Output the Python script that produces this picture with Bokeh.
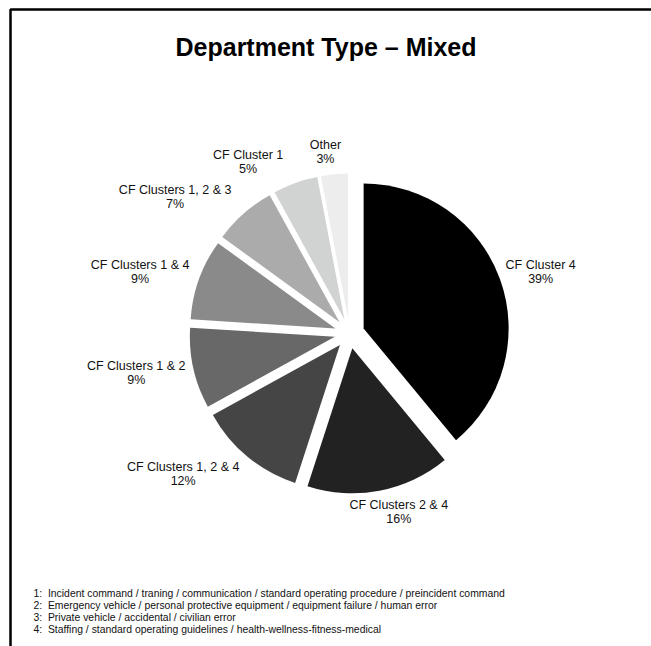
import math

from bokeh.core.properties import value
from bokeh.embed import file_html
from bokeh.models import ColumnDataSource, Range1d
from bokeh.plotting import figure
from bokeh.resources import INLINE

# ---- data -------------------------------------------------------------
categories = [
    "CF Cluster 4",
    "CF Clusters 2 & 4",
    "CF Clusters 1, 2 & 4",
    "CF Clusters 1 & 2",
    "CF Clusters 1 & 4",
    "CF Clusters 1, 2 & 3",
    "CF Cluster 1",
    "Other",
]
shares = [39, 16, 12, 9, 9, 7, 5, 3]
colors = ["#000000", "#222222", "#454545", "#676867",
          "#8a8a8a", "#ababab", "#d1d2d2", "#ededed"]

title_text = "Department Type \u2013 Mixed"
footnotes = [
    "1:\u00a0 Incident command / traning / communication / standard operating procedure / preincident command",
    "2:\u00a0 Emergency vehicle / personal protective equipment / equipment failure / human error",
    "3:\u00a0 Private vehicle / accidental / civilian error",
    "4:\u00a0 Staffing / standard operating guidelines / health-wellness-fitness-medical",
]

# ---- layout (pixel units, y measured downward from the top) ------------
W, H = 651, 646
CX, CY = 349, 333          # pie centre
RADIUS = 145
EXPLODE = 15               # every slice pulled out along its bisector
LABEL_R = 168
LABEL_FONT = 12.5
LINE_H = 14
# sideways shift of a few labels so neighbouring labels keep clear of each other
LABEL_SHIFT = [-2, -9, -3, 0, -2, -7, -10, -4]

FONT = "Liberation Sans, Arial, Helvetica, sans-serif"

# approximate advance widths (1/1000 em) used to centre the two-line labels
_ADV = {" ": 278, "C": 722, "F": 611, "O": 778, "l": 222, "u": 556, "s": 500,
        "t": 278, "e": 556, "r": 333, "h": 556, ",": 278, "&": 667, "%": 889}


def text_width(s, size):
    return sum(_ADV.get(ch, 556) for ch in s) * size / 1000.0


def fy(y_px):
    """convert a top-down pixel y into the plot's upward y axis"""
    return H - y_px


total = float(sum(shares))
starts, ends, xs, ys = [], [], [], []
lab_x, lab_y1, lab_y2, pct_text = [], [], [], []
cum = 0.0
for name, v, shift in zip(categories, shares, LABEL_SHIFT):
    a_hi = math.pi / 2 - 2 * math.pi * cum / total           # clockwise from 12 o'clock
    a_lo = math.pi / 2 - 2 * math.pi * (cum + v) / total
    mid = 0.5 * (a_hi + a_lo)
    cum += v
    starts.append(a_lo)
    ends.append(a_hi)
    xs.append(CX + EXPLODE * math.cos(mid))
    ys.append(fy(CY) + EXPLODE * math.sin(mid))

    pct = f"{round(100 * v / total)}%"
    pct_text.append(pct)
    w = max(text_width(name, LABEL_FONT), text_width(pct, LABEL_FONT))
    px = CX + LABEL_R * math.cos(mid)
    py = CY - LABEL_R * math.sin(mid)
    kx = max(-1.0, min(1.0, 2.9 * math.cos(mid)))
    cx_lab = px + kx * w / 2 + shift
    cy_lab = py - math.sin(mid) * LINE_H
    lab_x.append(cx_lab)
    lab_y1.append(fy(cy_lab - LINE_H / 2))
    lab_y2.append(fy(cy_lab + LINE_H / 2))

src = ColumnDataSource(dict(x=xs, y=ys, start=starts, end=ends, color=colors,
                            name=categories, pct=pct_text,
                            lx=lab_x, ly1=lab_y1, ly2=lab_y2))

p = figure(width=W, height=H, x_range=Range1d(0, W), y_range=Range1d(0, H),
           output_backend="svg", toolbar_location=None, min_border=0)
p.axis.visible = False
p.grid.visible = False
p.outline_line_color = None
p.background_fill_color = "white"
p.border_fill_color = "white"

# frame around the page (runs off the right and bottom edges)
p.quad(left=10, right=W + 200, top=fy(9), bottom=-200,
       fill_color=None, line_color="black", line_width=2.5)

p.wedge(x="x", y="y", radius=RADIUS, start_angle="start", end_angle="end",
        direction="anticlock", fill_color="color", line_color=None, source=src)

p.text(x="lx", y="ly1", text="name", source=src, text_align="center",
       text_baseline="middle", text_font=value(FONT),
       text_font_size=f"{LABEL_FONT}px", text_color="#111111")
p.text(x="lx", y="ly2", text="pct", source=src, text_align="center",
       text_baseline="middle", text_font=value(FONT),
       text_font_size=f"{LABEL_FONT}px", text_color="#111111")

p.text(x=[W / 2], y=[fy(46)], text=[title_text], text_align="center",
       text_baseline="middle", text_font=value(FONT), text_font_style="bold",
       text_font_size="25px", text_color="black")

p.text(x=[33] * len(footnotes), y=[fy(593 + 12 * i) for i in range(len(footnotes))],
       text=footnotes, text_align="left", text_baseline="middle",
       text_font=value(FONT), text_font_size="10.4px", text_color="#111111")

open("out.html", "w").write(file_html(p, INLINE))
